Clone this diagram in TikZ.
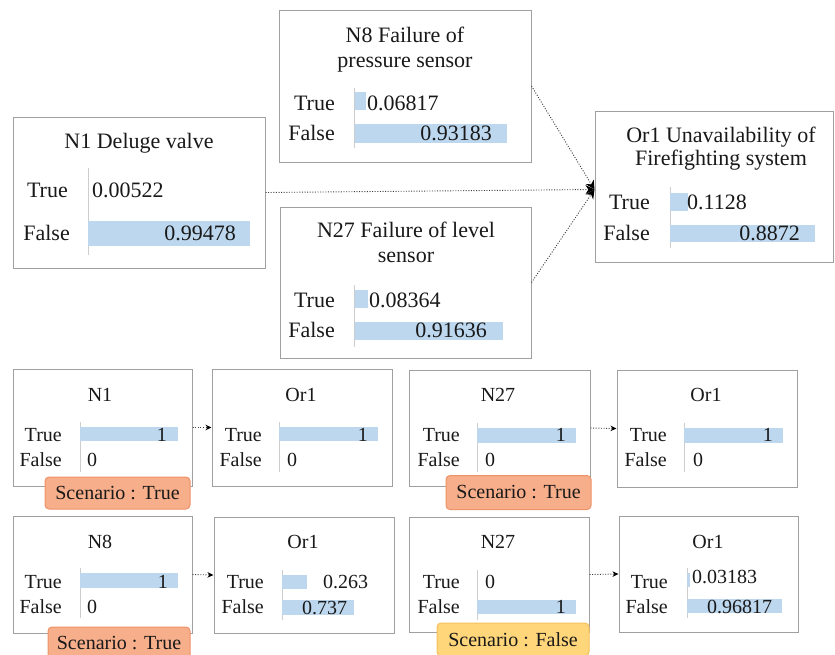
\documentclass[tikz,border=0pt]{standalone}
\usepackage{fontspec}
\setmainfont{Liberation Serif}
\usetikzlibrary{arrows.meta}

\definecolor{boxgray}{RGB}{160,160,160}
\definecolor{barblue}{RGB}{189,215,238}
\definecolor{divgray}{RGB}{205,205,205}
\definecolor{ink}{RGB}{25,25,25}
\definecolor{linkgray}{RGB}{60,60,60}
\definecolor{tagorangefill}{RGB}{247,174,138}
\definecolor{tagorangeline}{RGB}{238,146,104}
\definecolor{tagyellowfill}{RGB}{255,214,122}
\definecolor{tagyellowline}{RGB}{245,192,92}

\newcommand\topfont{\fontsize{22}{25}\selectfont}
\newcommand\lowfont{\fontsize{20}{23}\selectfont}

\tikzset{
  panel/.style={draw=boxgray, line width=1pt, fill=white, inner sep=0pt},
  bar/.style={fill=barblue},
  divider/.style={draw=divgray, line width=0.8pt},
  lbl/.style={anchor=base east, inner sep=0pt, text=ink},
  valL/.style={anchor=base west, inner sep=0pt, text=ink},
  valR/.style={anchor=base east, inner sep=0pt, text=ink},
  heading/.style={anchor=base, inner sep=0pt, text=ink},
  tagbox/.style={rounded corners=4pt, line width=1pt, inner sep=0pt, text=ink, font=\lowfont},
  orangetag/.style={tagbox, fill=tagorangefill, draw=tagorangeline},
  yellowtag/.style={tagbox, fill=tagyellowfill, draw=tagyellowline},
  link/.style={draw=linkgray, line width=0.9pt, dash pattern=on 1pt off 1.6pt,
    -{Stealth[length=9pt,width=9pt,color=black]}},
  slink/.style={draw=linkgray, line width=0.9pt, dash pattern=on 1pt off 1.6pt,
    -{Stealth[length=6pt,width=5.5pt,color=black]}},
}

\begin{document}
\begin{tikzpicture}[x=1pt,y=-1pt]
\useasboundingbox (0,0) rectangle (835,654);

% ---------- top network ----------
\node[panel, minimum width=252pt, minimum height=151pt] (n1)  at (139,192.5) {};
\node[panel, minimum width=252pt, minimum height=152pt] (n8)  at (405,86) {};
\node[panel, minimum width=251pt, minimum height=151pt] (n27) at (405.5,282.5) {};
\node[panel, minimum width=238pt, minimum height=151pt] (or1) at (714,186.5) {};

\begin{scope}[every node/.append style={font=\topfont}]
% N1 Deluge valve
\node[heading] (n1h) at (139,148) {N1 Deluge valve};
\draw[divider] (88,168) -- (88,255);
\fill[bar] (88,221) rectangle (250,246);
\node[lbl] (n1tl) at (68,197) {True};
\node[lbl] (n1fl) at (70,240) {False};
\node[valL] (n1tv) at (92,197) {0.00522};
\node[valR] (n1fv) at (236,240) {0.99478};

% N8 Failure of pressure sensor
\node[heading] (n8h1) at (405,42) {N8 Failure of};
\node[heading] (n8h2) at (405,67) {pressure sensor};
\draw[divider] (354,88) -- (354,148);
\fill[bar] (355,92) rectangle (366,110);
\fill[bar] (355,124) rectangle (507,143);
\node[lbl] (n8tl) at (335,110) {True};
\node[lbl] (n8fl) at (335,140) {False};
\node[valL] (n8tv) at (367,110) {0.06817};
\node[valR] (n8fv) at (492,140) {0.93183};

% N27 Failure of level sensor
\node[heading] (n27h1) at (406,237) {N27 Failure of level};
\node[heading] (n27h2) at (406,262) {sensor};
\draw[divider] (354,285) -- (354,347);
\fill[bar] (355,290) rectangle (368,308);
\fill[bar] (355,322) rectangle (503,340);
\node[lbl] (n27tl) at (335,307) {True};
\node[lbl] (n27fl) at (335,337) {False};
\node[valL] (n27tv) at (369,307) {0.08364};
\node[valR] (n27fv) at (487,337) {0.91636};

% Or1 Unavailability of firefighting system
\node[heading] (or1h1) at (721,142) {Or1 Unavailability of};
\node[heading] (or1h2) at (721,165) {Firefighting system};
\draw[divider] (670,187) -- (670,248);
\fill[bar] (670,193) rectangle (688,211);
\fill[bar] (670,225) rectangle (815,242);
\node[lbl] (or1tl) at (650,209) {True};
\node[lbl] (or1fl) at (650,240) {False};
\node[valL] (or1tv) at (687,209) {0.1128};
\node[valR] (or1fv) at (800,240) {0.8872};
\end{scope}

\coordinate (hub) at ([yshift=-3pt]or1.west);
\draw[link] (n1.east) -- (hub);
\draw[link] (n8.east) -- (hub);
\draw[link] (n27.east) -- (hub);

% ---------- scenario panels ----------
\node[panel, minimum width=179pt, minimum height=117pt] (r1a) at (102.5,427.5) {};
\node[panel, minimum width=180pt, minimum height=117pt] (r1b) at (302,427.5) {};
\node[panel, minimum width=181pt, minimum height=116pt] (r1c) at (499.5,428) {};
\node[panel, minimum width=180pt, minimum height=117pt] (r1d) at (707,428.5) {};
\node[panel, minimum width=179pt, minimum height=117pt] (r2a) at (102.5,574.5) {};
\node[panel, minimum width=180pt, minimum height=116pt] (r2b) at (304,575) {};
\node[panel, minimum width=180pt, minimum height=115pt] (r2c) at (499,574.5) {};
\node[panel, minimum width=179pt, minimum height=116pt] (r2d) at (708.5,574) {};

\begin{scope}[every node/.append style={font=\lowfont}]
% row 1: N1 -> Or1
\node[heading] (r1ah) at (100,401) {N1};
\draw[divider] (80,422) -- (80,472);
\fill[bar] (80,427) rectangle (178,441);
\node[lbl] (r1atl) at (62,441) {True};
\node[lbl] (r1afl) at (62,466) {False};
\node[valR] (r1atv) at (167,441) {1};
\node[valL] (r1afv) at (87,466) {0};

\node[heading] (r1bh) at (301,401) {Or1};
\draw[divider] (279,422) -- (279,472);
\fill[bar] (279,427) rectangle (378,441);
\node[lbl] (r1btl) at (262,441) {True};
\node[lbl] (r1bfl) at (262,466) {False};
\node[valR] (r1btv) at (368,441) {1};
\node[valL] (r1bfv) at (287,466) {0};

% row 1: N27 -> Or1
\node[heading] (r1ch) at (498,401) {N27};
\draw[divider] (477,423) -- (477,472);
\fill[bar] (477,428) rectangle (576,443);
\node[lbl] (r1ctl) at (460,441) {True};
\node[lbl] (r1cfl) at (460,466) {False};
\node[valR] (r1ctv) at (566,441) {1};
\node[valL] (r1cfv) at (485,466) {0};

\node[heading] (r1dh) at (706,401) {Or1};
\draw[divider] (684,423) -- (684,472);
\fill[bar] (684,428) rectangle (783,443);
\node[lbl] (r1dtl) at (667,441) {True};
\node[lbl] (r1dfl) at (667,466) {False};
\node[valR] (r1dtv) at (773,441) {1};
\node[valL] (r1dfv) at (693,466) {0};

% row 2: N8 -> Or1
\node[heading] (r2ah) at (100,548) {N8};
\draw[divider] (80,568) -- (80,618);
\fill[bar] (80,573) rectangle (178,588);
\node[lbl] (r2atl) at (62,588) {True};
\node[lbl] (r2afl) at (62,613) {False};
\node[valR] (r2atv) at (168,588) {1};
\node[valL] (r2afv) at (87,613) {0};

\node[heading] (r2bh) at (303,548) {Or1};
\draw[divider] (282,570) -- (282,620);
\fill[bar] (282,575) rectangle (307,589);
\fill[bar] (282,600) rectangle (354,615);
\node[lbl] (r2btl) at (264,588) {True};
\node[lbl] (r2bfl) at (264,613) {False};
\node[valL] (r2btv) at (323,588) {0.263};
\node[valL] (r2bfv) at (302,614) {0.737};

% row 2: N27 -> Or1
\node[heading] (r2ch) at (498,548) {N27};
\draw[divider] (477,570) -- (477,620);
\fill[bar] (477,600) rectangle (576,614);
\node[lbl] (r2ctl) at (460,588) {True};
\node[lbl] (r2cfl) at (460,613) {False};
\node[valL] (r2ctv) at (485,588) {0};
\node[valR] (r2cfv) at (566,613) {1};

\node[heading] (r2dh) at (708,548) {Or1};
\draw[divider] (687,568) -- (687,618);
\fill[bar] (687,573) rectangle (690,587);
\fill[bar] (687,599) rectangle (782,613);
\node[lbl] (r2dtl) at (668,588) {True};
\node[lbl] (r2dfl) at (668,613) {False};
\node[valL] (r2dtv) at (692,583) {0.03183};
\node[valL] (r2dfv) at (707,613) {0.96817};
\end{scope}

\draw[slink] (r1a.east) -- (r1b.west);
\draw[slink] (r1c.east) -- (r1d.west);
\draw[slink] (r2a.east) -- (r2b.west);
\draw[slink] (r2c.east) -- (r2d.west);

% scenario tags
\node[orangetag, minimum width=145pt, minimum height=32pt] (tag1) at (117.5,493) {Scenario : True};
\node[orangetag, minimum width=145pt, minimum height=34pt] (tag2) at (518.5,492.5) {Scenario : True};
\node[orangetag, minimum width=142pt, minimum height=33pt] (tag3) at (119,643.5) {Scenario : True};
\node[yellowtag, minimum width=152pt, minimum height=33pt] (tag4) at (513,639.5) {Scenario : False};
\end{tikzpicture}
\end{document}
